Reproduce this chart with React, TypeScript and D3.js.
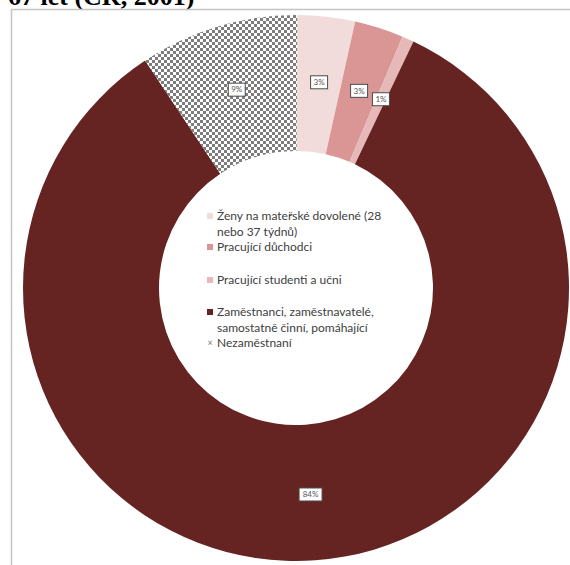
import React from "react";
import * as d3 from "d3";

const categories = [
  "Ženy na mateřské dovolené (28 nebo 37 týdnů)",
  "Pracující důchodci",
  "Pracující studenti a učni",
  "Zaměstnanci, zaměstnavatelé, samostatně činní, pomáhající",
  "Nezaměstnaní",
];
const values = [3.4, 2.9, 0.7, 83.6, 9.4];
const valueLabels = ["3%", "3%", "1%", "84%", "9%"];
const colors = ["#f2dcdb", "#d99694", "#e6b9b8", "#652422", "url(#checker)"];
const legendMarkerColors = ["#f2dcdb", "#d99694", "#e6b9b8", "#652422", "none"];
const legendLines = [
  ["Ženy na mateřské dovolené (28", "nebo 37 týdnů)"],
  ["Pracující důchodci"],
  ["Pracující studenti a učni"],
  ["Zaměstnanci, zaměstnavatelé,", "samostatně činní, pomáhající"],
  ["Nezaměstnaní"],
];
const legendY = [216, 247, 280, 312, 343];
const title = "67 let (ČR, 2001)";

export default function App() {
  const W = 570;
  const H = 565;
  const cx = 296;
  const cy = 288;
  const outerR = 273;
  const innerR = 137;

  const pie = d3
    .pie<number>()
    .sort(null)
    .startAngle(0.005)
    .endAngle(2 * Math.PI + 0.005)
    .value((d) => d);
  const arcs = pie(values);
  const arc = d3.arc<d3.PieArcDatum<number>>().innerRadius(innerR).outerRadius(outerR);
  const labelArc = d3.arc<d3.PieArcDatum<number>>().innerRadius(207).outerRadius(207);

  const font = "Lato, 'Open Sans', sans-serif";

  return (
    <svg
      width={W}
      height={H}
      viewBox={`0 0 ${W} ${H}`}
      style={{ position: "absolute", left: 0, top: 0, background: "#fff" }}
    >
      <defs>
        <pattern id="checker" width={6} height={6} patternUnits="userSpaceOnUse">
          <rect width={6} height={6} fill="#ffffff" />
          <rect x={0} y={0} width={3} height={3} fill="#7d7d7d" />
          <rect x={3} y={3} width={3} height={3} fill="#7d7d7d" />
        </pattern>
      </defs>
      <rect x={0} y={0} width={W} height={H} fill="#fff" />
      <text
        x={8}
        y={5}
        fontFamily="'Liberation Serif', 'Times New Roman', serif"
        fontWeight="bold"
        fontSize={26}
        fill="#000"
      >
        {title}
      </text>
      <path d={`M11.5,${H} V9.5 H${W}`} fill="none" stroke="#c4c4c4" strokeWidth={1.5} />
      <g transform={`translate(${cx},${cy})`}>
        {arcs.map((a, i) => (
          <path key={i} d={arc(a) || ""} fill={colors[i]} stroke="none" />
        ))}
        {arcs.map((a, i) => {
          const [lx, ly] = labelArc.centroid(a);
          const w = valueLabels[i].length > 2 ? 23 : 17;
          const h = 13;
          return (
            <g key={"l" + i} transform={`translate(${lx},${ly})`}>
              <rect x={-w / 2} y={-h / 2} width={w} height={h} fill="#fff" stroke="#4a4a4a" strokeWidth={1} />
              <text
                x={0}
                y={0}
                dy="0.35em"
                textAnchor="middle"
                fontFamily={font}
                fontSize={8}
                fill="#555"
              >
                {valueLabels[i]}
              </text>
            </g>
          );
        })}
      </g>
      <g>
        {legendLines.map((lines, i) => (
          <g key={"lg" + i}>
            {i < 4 ? (
              <rect x={207} y={legendY[i] - 3} width={6} height={6} fill={legendMarkerColors[i]} />
            ) : (
              <text x={210} y={legendY[i]} dy="0.35em" textAnchor="middle" fontFamily={font} fontSize={9} fill="#777">
                ×
              </text>
            )}
            {lines.map((t, j) => (
              <text
                key={j}
                x={217}
                y={legendY[i] + j * 16}
                dy="0.35em"
                fontFamily={font}
                fontSize={12}
                fill="#404040"
              >
                {t}
              </text>
            ))}
          </g>
        ))}
      </g>
    </svg>
  );
}
